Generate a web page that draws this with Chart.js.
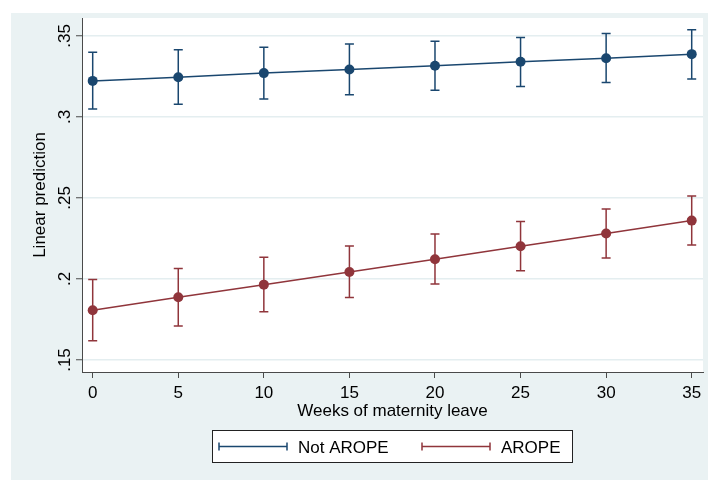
<!DOCTYPE html>
<html>
<head>
<meta charset="utf-8">
<script src="https://cdn.jsdelivr.net/npm/chart.js@4"></script>
<style>
  html, body { margin: 0; padding: 0; background: #ffffff; }
  #c { display: block; }
</style>
</head>
<body>
<canvas id="c" width="708" height="480"></canvas>
<script>
// ---- data ----
const weeks = [0, 5, 10, 15, 20, 25, 30, 35];
const notAropeMean = [0.3222, 0.3245, 0.3270, 0.3292, 0.3315, 0.3340, 0.3362, 0.3387];
const notAropeLow  = [0.3048, 0.3078, 0.3110, 0.3136, 0.3165, 0.3187, 0.3212, 0.3233];
const notAropeHigh = [0.3399, 0.3414, 0.3430, 0.3450, 0.3467, 0.3490, 0.3514, 0.3537];
const aropeMean = [0.1807, 0.1887, 0.1965, 0.2043, 0.2122, 0.2202, 0.2280, 0.2360];
const aropeLow  = [0.1619, 0.1710, 0.1798, 0.1885, 0.1969, 0.2051, 0.2130, 0.2210];
const aropeHigh = [0.1996, 0.2064, 0.2134, 0.2204, 0.2278, 0.2354, 0.2432, 0.2512];
const seriesNames = ['Not AROPE', 'AROPE'];
const yTicks = [0.15, 0.2, 0.25, 0.3, 0.35];
const yTickLabels = ['.15', '.2', '.25', '.3', '.35'];
const xTicks = [0, 5, 10, 15, 20, 25, 30, 35];
const xTitle = 'Weeks of maternity leave';
const yTitle = 'Linear prediction';

// ---- styles ----
const NAVY = '#1a476f';
const MAROON = '#90353b';
const BG = '#eaf2f3';
const GRID = '#e4eef0';
const AXIS = '#4a4a4a';
const FONT = '"Liberation Sans", Arial, sans-serif';

const errorBars = [
  { low: notAropeLow, high: notAropeHigh, color: NAVY },
  { low: aropeLow, high: aropeHigh, color: MAROON }
];

const customDraw = {
  id: 'customDraw',
  beforeDraw(chart) {
    const ctx = chart.ctx;
    const a = chart.chartArea;
    ctx.save();
    ctx.fillStyle = '#ffffff';
    ctx.fillRect(0, 0, chart.width, chart.height);
    ctx.fillStyle = BG;
    ctx.fillRect(11, 13, chart.width - 11, chart.height - 13);
    ctx.fillStyle = '#ffffff';
    ctx.fillRect(a.left, a.top, a.right - a.left, a.bottom - a.top);
    ctx.restore();
  },
  beforeDatasetsDraw(chart) {
    const ctx = chart.ctx;
    const xs = chart.scales.x, ys = chart.scales.y;
    ctx.save();
    ctx.lineWidth = 1.5;
    errorBars.forEach(eb => {
      ctx.strokeStyle = eb.color;
      weeks.forEach((w, i) => {
        const px = xs.getPixelForValue(w);
        const pl = ys.getPixelForValue(eb.low[i]);
        const ph = ys.getPixelForValue(eb.high[i]);
        ctx.beginPath();
        ctx.moveTo(px, pl); ctx.lineTo(px, ph);
        ctx.moveTo(px - 4.5, pl); ctx.lineTo(px + 4.5, pl);
        ctx.moveTo(px - 4.5, ph); ctx.lineTo(px + 4.5, ph);
        ctx.stroke();
      });
    });
    ctx.restore();
  },
  afterDraw(chart) {
    const ctx = chart.ctx;
    const a = chart.chartArea;
    const ys = chart.scales.y;
    ctx.save();
    ctx.fillStyle = '#000000';
    // y tick labels (rotated)
    ctx.font = '17px ' + FONT;
    ctx.textAlign = 'center';
    ctx.textBaseline = 'alphabetic';
    yTicks.forEach((v, i) => {
      const py = ys.getPixelForValue(v);
      ctx.save();
      ctx.translate(70, py);
      ctx.rotate(-Math.PI / 2);
      ctx.fillText(yTickLabels[i], 0, 0);
      ctx.restore();
    });
    // y title
    ctx.save();
    ctx.translate(45, (a.top + a.bottom) / 2);
    ctx.rotate(-Math.PI / 2);
    ctx.fillText(yTitle, 0, 0);
    ctx.restore();
    // x title
    ctx.fillText(xTitle, (a.left + a.right) / 2, 416);

    // legend
    ctx.fillStyle = '#ffffff';
    ctx.fillRect(212.5, 430.5, 360, 32);
    ctx.strokeStyle = '#222222';
    ctx.lineWidth = 1;
    ctx.strokeRect(212.5, 430.5, 360, 32);
    const items = [
      { x0: 219, x1: 287, tx: 298, color: NAVY, label: seriesNames[0] },
      { x0: 422, x1: 490, tx: 501, color: MAROON, label: seriesNames[1] }
    ];
    const ly = 446.5;
    items.forEach(it => {
      ctx.strokeStyle = it.color;
      ctx.lineWidth = 1.5;
      ctx.beginPath();
      ctx.moveTo(it.x0, ly); ctx.lineTo(it.x1, ly);
      ctx.moveTo(it.x0, ly - 4); ctx.lineTo(it.x0, ly + 4);
      ctx.moveTo(it.x1, ly - 4); ctx.lineTo(it.x1, ly + 4);
      ctx.stroke();
      ctx.fillStyle = '#000000';
      ctx.textAlign = 'left';
      ctx.fillText(it.label, it.tx, 453);
    });
    ctx.restore();
  }
};

const makeData = (mean) => weeks.map((w, i) => ({ x: w, y: mean[i] }));

new Chart(document.getElementById('c'), {
  type: 'line',
  data: {
    datasets: [
      {
        label: seriesNames[0],
        data: makeData(notAropeMean),
        borderColor: NAVY,
        backgroundColor: NAVY,
        borderWidth: 1.5,
        pointRadius: 5,
        pointBorderWidth: 0,
        pointBackgroundColor: NAVY,
        tension: 0,
        fill: false
      },
      {
        label: seriesNames[1],
        data: makeData(aropeMean),
        borderColor: MAROON,
        backgroundColor: MAROON,
        borderWidth: 1.5,
        pointRadius: 5,
        pointBorderWidth: 0,
        pointBackgroundColor: MAROON,
        tension: 0,
        fill: false
      }
    ]
  },
  options: {
    responsive: false,
    animation: false,
    devicePixelRatio: 1,
    layout: { padding: { left: 0, top: 18, right: 5, bottom: 0 } },
    plugins: {
      legend: { display: false },
      tooltip: { enabled: false },
      title: { display: false }
    },
    scales: {
      x: {
        type: 'linear',
        min: -0.625,
        max: 35.66,
        afterBuildTicks: s => { s.ticks = xTicks.map(v => ({ value: v })); },
        afterFit: s => { s.height = 108; },
        ticks: {
          font: { family: FONT, size: 17 },
          color: '#000000',
          padding: 5,
          autoSkip: false,
          maxRotation: 0,
          minRotation: 0,
          callback: v => String(v)
        },
        grid: {
          drawOnChartArea: false,
          drawTicks: true,
          tickLength: 6,
          tickColor: AXIS,
          tickWidth: 1
        },
        border: { display: true, color: AXIS, width: 1 }
      },
      y: {
        type: 'linear',
        min: 0.1426,
        max: 0.361,
        afterBuildTicks: s => { s.ticks = yTicks.map(v => ({ value: v })); },
        afterFit: s => { s.width = 82; },
        ticks: { display: false },
        grid: {
          color: GRID,
          lineWidth: 1.5,
          drawTicks: true,
          tickLength: 6,
          tickColor: AXIS,
          tickWidth: 1
        },
        border: { display: true, color: AXIS, width: 1 }
      }
    }
  },
  plugins: [customDraw]
});
</script>
</body>
</html>
